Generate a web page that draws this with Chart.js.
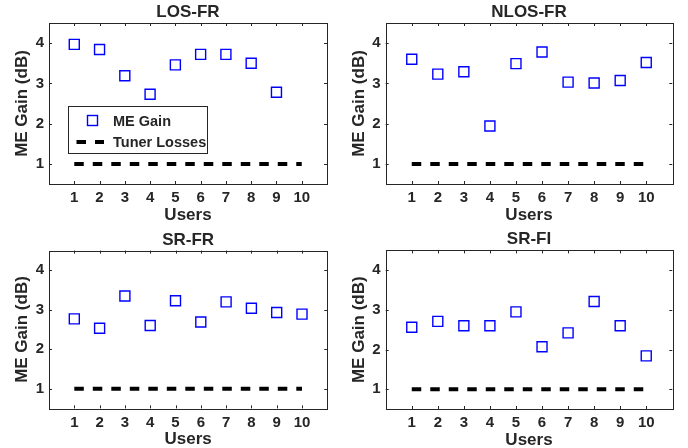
<!DOCTYPE html>
<html><head><meta charset="utf-8">
<script src="https://cdn.jsdelivr.net/npm/chart.js@4.4.1/dist/chart.umd.min.js"></script>
<style>
html,body{margin:0;padding:0;background:#fff;}
#wrap{position:relative;width:688px;height:448px;background:#fff;}
.p{position:absolute;width:344px;height:224px;}
canvas{display:block;}
</style></head><body>
<div id="wrap">
<div class="p" style="left:0;top:0"><canvas id="c0" width="344" height="224"></canvas></div>
<div class="p" style="left:344px;top:0"><canvas id="c1" width="344" height="224"></canvas></div>
<div class="p" style="left:0;top:224px"><canvas id="c2" width="344" height="224"></canvas></div>
<div class="p" style="left:344px;top:224px"><canvas id="c3" width="344" height="224"></canvas></div>
</div>
<script>
// ---- data ----
const users = [1, 2, 3, 4, 5, 6, 7, 8, 9, 10];
const losFrGain  = [3.97, 3.84, 3.19, 2.73, 3.46, 3.72, 3.72, 3.50, 2.78, null];
const nlosFrGain = [3.60, 3.23, 3.29, 1.94, 3.49, 3.78, 3.03, 3.01, 3.07, 3.52];
const srFrGain   = [2.77, 2.53, 3.35, 2.60, 3.23, 2.69, 3.20, 3.04, 2.93, 2.89];
const srFiGain   = [2.56, 2.71, 2.60, 2.60, 2.95, 2.07, 2.42, 3.21, 2.60, 1.84];
const tunerLosses = [1, 1, 1, 1, 1, 1, 1, 1, 1, 1];
const panelTitles = ['LOS-FR', 'NLOS-FR', 'SR-FR', 'SR-FI'];
const xTickValues = [1, 2, 3, 4, 5, 6, 7, 8, 9, 10];
const yTickValues = [1, 2, 3, 4];
const xAxisTitle = 'Users';
const yAxisTitle = 'ME Gain (dB)';
const legendLabels = ['ME Gain', 'Tuner Losses'];

// ---- layout / style ----
const FONT = '"Liberation Sans", Arial, Helvetica, sans-serif';
const TXT = '#262626';
const areas = [
  {l: 49, r: 327, t: 23, b: 184},
  {l: 41.7, r: 328.3, t: 23, b: 184},
  {l: 49, r: 327.3, t: 26.6, b: 184.4},
  {l: 41.7, r: 328.3, t: 26.4, b: 185}
];
const gainSeries = [losFrGain, nlosFrGain, srFrGain, srFiGain];

function decorPlugin(idx) {
  return {
    id: 'decor' + idx,
    afterDraw(chart) {
      const ctx = chart.ctx;
      const a = chart.chartArea;
      const xs = chart.scales.x, ys = chart.scales.y;
      ctx.save();
      // box
      ctx.strokeStyle = '#262626';
      ctx.lineWidth = 1;
      ctx.strokeRect(Math.round(a.left) + 0.5, Math.round(a.top) + 0.5,
                     Math.round(a.right - a.left), Math.round(a.bottom - a.top));
      // inward ticks
      ctx.beginPath();
      const tl = 3;
      xTickValues.forEach(v => {
        const px = Math.round(xs.getPixelForValue(v)) + 0.5;
        ctx.moveTo(px, a.bottom); ctx.lineTo(px, a.bottom - tl);
        ctx.moveTo(px, a.top); ctx.lineTo(px, a.top + tl);
      });
      yTickValues.forEach(v => {
        const py = Math.round(ys.getPixelForValue(v)) + 0.5;
        ctx.moveTo(a.left, py); ctx.lineTo(a.left + tl, py);
        ctx.moveTo(a.right, py); ctx.lineTo(a.right - tl, py);
      });
      ctx.stroke();
      // panel title
      ctx.fillStyle = TXT;
      ctx.font = 'bold 17px ' + FONT;
      ctx.textAlign = 'center';
      ctx.textBaseline = 'alphabetic';
      const cx = (a.left + a.right) / 2;
      ctx.fillText(panelTitles[idx], cx, a.top - 6);
      // x axis title
      ctx.fillText(xAxisTitle, cx, a.bottom + 35.5);
      // y axis title
      ctx.save();
      ctx.translate(a.left - 22, (a.top + a.bottom) / 2);
      ctx.rotate(-Math.PI / 2);
      ctx.fillText(yAxisTitle, 0, 0);
      ctx.restore();
      // legend (first panel only)
      if (idx === 0) {
        const ds0 = chart.data.datasets[0], ds1 = chart.data.datasets[1];
        ctx.fillStyle = '#fff';
        ctx.fillRect(68.5, 106.5, 139, 47);
        ctx.strokeStyle = '#262626';
        ctx.lineWidth = 1;
        ctx.strokeRect(68.5, 106.5, 139, 47);
        ctx.strokeStyle = ds0.borderColor;
        ctx.lineWidth = ds0.borderWidth;
        ctx.strokeRect(87.5, 115.5, 10, 10);
        ctx.strokeStyle = ds1.borderColor;
        ctx.lineWidth = ds1.borderWidth;
        ctx.setLineDash(ds1.borderDash);
        ctx.beginPath();
        ctx.moveTo(76.5, 142); ctx.lineTo(104, 142);
        ctx.stroke();
        ctx.setLineDash([]);
        ctx.fillStyle = TXT;
        ctx.font = 'bold 14.5px ' + FONT;
        ctx.textAlign = 'left';
        ctx.fillText(legendLabels[0], 113, 125.5);
        ctx.fillText(legendLabels[1], 113, 147);
      }
      ctx.restore();
    }
  };
}

function makeChart(idx) {
  const a = areas[idx];
  const cv = document.getElementById('c' + idx);
  return new Chart(cv.getContext('2d'), {
    type: 'scatter',
    data: {
      datasets: [
        {
          label: legendLabels[0],
          data: users.map((u, i) => ({x: u, y: gainSeries[idx][i]})).filter(p => p.y !== null),
          showLine: false,
          pointStyle: 'rect',
          pointRadius: 7.07,
          pointHoverRadius: 7.07,
          borderColor: '#0000ff',
          backgroundColor: 'rgba(0,0,0,0)',
          borderWidth: 1.4,
          order: 1
        },
        {
          label: legendLabels[1],
          data: users.map((u, i) => ({x: u, y: tunerLosses[i]})),
          showLine: true,
          pointRadius: 0,
          pointHoverRadius: 0,
          borderColor: '#000000',
          borderWidth: 4,
          borderDash: [9.5, 9],
          fill: false,
          order: 2
        }
      ]
    },
    options: {
      responsive: false,
      animation: false,
      events: [],
      layout: {padding: {left: 0, top: a.t, right: 344 - a.r, bottom: 0}},
      plugins: {legend: {display: false}, title: {display: false}, tooltip: {enabled: false}},
      scales: {
        x: {
          type: 'linear', min: 0, max: 11,
          afterBuildTicks: s => { s.ticks = xTickValues.map(v => ({value: v})); },
          afterFit: s => { s.height = 224 - a.b; },
          grid: {display: false, drawTicks: false},
          border: {display: false},
          ticks: {color: TXT, font: {family: FONT, size: 15, weight: 'bold'}, padding: 5, maxRotation: 0, autoSkip: false}
        },
        y: {
          type: 'linear', min: 0.5, max: 4.5,
          afterBuildTicks: s => { s.ticks = yTickValues.map(v => ({value: v})); },
          afterFit: s => { s.width = a.l; },
          grid: {display: false, drawTicks: false},
          border: {display: false},
          ticks: {color: TXT, font: {family: FONT, size: 15, weight: 'bold'}, padding: 5}
        }
      }
    },
    plugins: [decorPlugin(idx)]
  });
}
[0, 1, 2, 3].forEach(makeChart);
</script>
</body></html>
